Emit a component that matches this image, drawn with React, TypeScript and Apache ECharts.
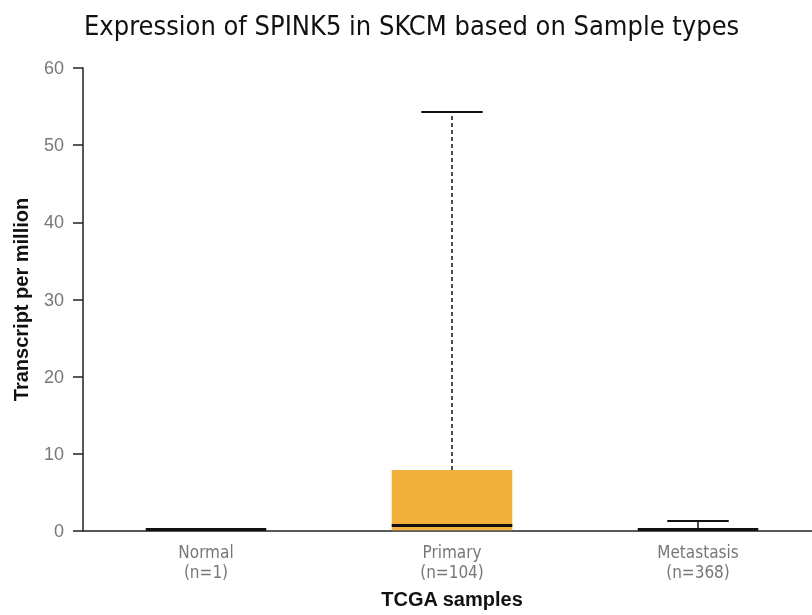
import React, { useEffect, useRef } from "react";
import * as echarts from "echarts";

const categories = ["Normal\n(n=1)", "Primary\n(n=104)", "Metastasis\n(n=368)"];
// [min, q1, median, q3, max]
const boxStats = [
  [0.2, 0.2, 0.2, 0.2, 0.2],
  [0.0, 0.1, 0.7, 7.9, 54.3],
  [0.0, 0.1, 0.2, 0.3, 1.3],
];
const yTicks = { min: 0, max: 60, interval: 10 };

export default function App() {
  const ref = useRef<HTMLDivElement>(null);
  useEffect(() => {
    const chart = echarts.init(ref.current!, null, { renderer: "svg" });
    const data = boxStats.map((s, i) => [i, ...s]);
    chart.setOption({
      animation: false,
      title: {
        text: "Expression of SPINK5 in SKCM based on Sample types",
        left: 79,
        top: 7,
        textStyle: {
          fontFamily: "DejaVu Sans Condensed",
          fontSize: 27,
          fontWeight: "normal",
          color: "#111",
        },
      },
      grid: { left: 83, top: 68, bottom: 84, width: 738, outerBoundsMode: "none", containLabel: false },
      xAxis: {
        type: "category",
        data: categories,
        name: "TCGA samples",
        nameLocation: "middle",
        nameGap: 58,
        nameTextStyle: { fontFamily: "Liberation Sans", fontSize: 20, fontWeight: "bold", color: "#111" },
        axisLine: { lineStyle: { color: "#222", width: 1.5 } },
        axisTick: { show: false },
        axisLabel: {
          fontFamily: "DejaVu Sans Condensed",
          fontSize: 17,
          color: "#777",
          lineHeight: 20,
          margin: 11,
        },
      },
      yAxis: {
        type: "value",
        min: yTicks.min,
        max: yTicks.max,
        interval: yTicks.interval,
        name: "Transcript per million",
        nameLocation: "middle",
        nameGap: 52,
        nameTextStyle: { fontFamily: "Liberation Sans", fontSize: 20, fontWeight: "bold", color: "#111" },
        axisLine: { show: true, lineStyle: { color: "#222", width: 1.5 } },
        axisTick: { show: true, length: 10, lineStyle: { color: "#222", width: 1.5 } },
        axisLabel: { fontFamily: "Liberation Sans", fontSize: 18, color: "#777", margin: 19 },
        splitLine: { show: false },
      },
      series: [
        {
          type: "custom",
          data,
          encode: { x: 0, y: [1, 2, 3, 4, 5] },
          renderItem: (params: any, api: any) => {
            const idx = api.value(0);
            const q1 = api.value(2);
            const med = api.value(3);
            const q3 = api.value(4);
            const vmax = api.value(5);
            const band = api.size([1, 0])[0];
            const bw = band * 0.49;
            const cw = band * 0.25;
            const pQ1 = api.coord([idx, q1]);
            const pMed = api.coord([idx, med]);
            const pQ3 = api.coord([idx, q3]);
            const pMax = api.coord([idx, vmax]);
            const cx = pMed[0];
            const children: any[] = [];
            if (pQ1[1] - pQ3[1] > 3) {
              children.push({
                type: "rect",
                shape: { x: cx - bw / 2, y: pQ3[1], width: bw, height: pQ1[1] - pQ3[1] },
                style: { fill: "#F2B13C" },
              });
            }
            if (pMed[1] - pMax[1] > 0.5) {
              const long = pQ3[1] - pMax[1] > 20;
              children.push({
                type: "line",
                shape: { x1: cx, y1: long ? pQ3[1] : pMed[1], x2: cx, y2: pMax[1] },
                style: { stroke: "#111", lineWidth: 1.5, lineDash: long ? [4, 3] : null },
              });
              children.push({
                type: "line",
                shape: { x1: cx - cw / 2, y1: pMax[1], x2: cx + cw / 2, y2: pMax[1] },
                style: { stroke: "#111", lineWidth: 2 },
              });
            }
            children.push({
              type: "line",
              shape: { x1: cx - bw / 2, y1: pMed[1], x2: cx + bw / 2, y2: pMed[1] },
              style: { stroke: "#111", lineWidth: 3 },
            });
            return { type: "group", children };
          },
        },
      ],
    });
    return () => chart.dispose();
  }, []);
  return <div ref={ref} style={{ width: 812, height: 615, position: "fixed", left: 0, top: 0 }} />;
}
